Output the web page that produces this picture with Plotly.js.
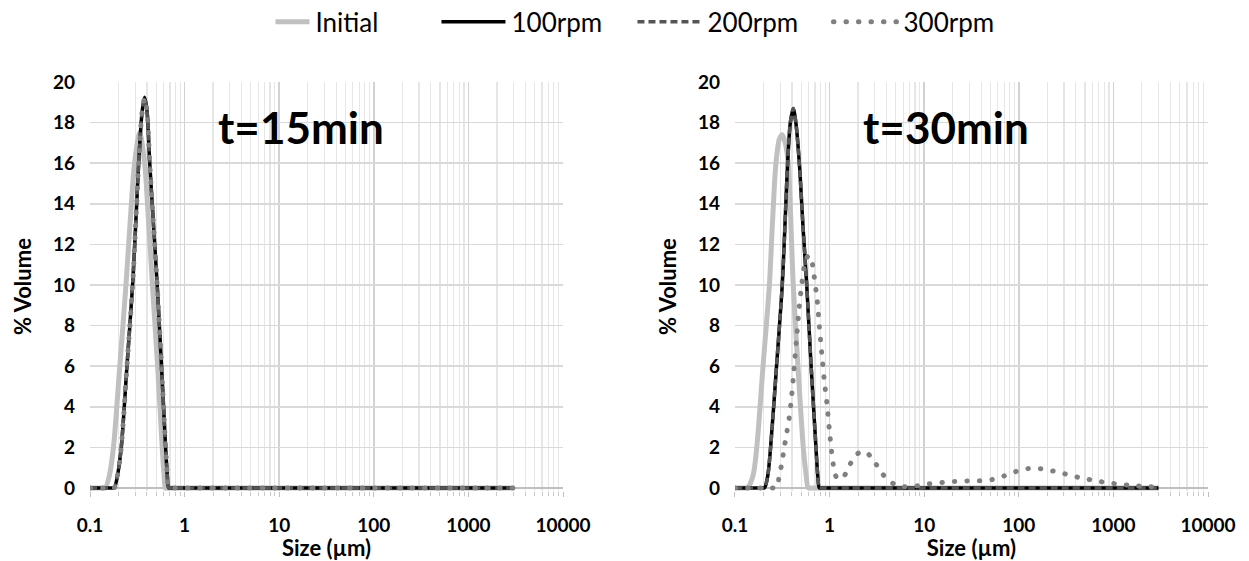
<!DOCTYPE html>
<html>
<head>
<meta charset="utf-8">
<script src="https://cdn.plot.ly/plotly-3.0.1.min.js"></script>
<style>
html,body{margin:0;padding:0;background:#fff;}
#chart{width:1249px;height:561px;}
.tracer300a .js-line, .tracer300b .js-line, .legend .traces:nth-of-type(4) .js-line {stroke-linecap:round;}
.legend .traces .js-line {d: path("M-30,0h64");}
</style>
</head>
<body>
<div id="chart"></div>
<script>
// ---- tick labels & names ----
const tickVals = [0.1, 1, 10, 100, 1000, 10000];
const tickText = ["0.1", "1", "10", "100", "1000", "10000"];
const seriesNames = ["Initial", "100rpm", "200rpm", "300rpm"];
const panelLabels = ["t=15min", "t=30min"];

// ---- t = 15 min ----
const initSize15 = [0.1, 0.135, 0.145, 0.16, 0.177, 0.205, 0.24, 0.27, 0.296, 0.335, 0.378, 0.415, 0.457, 0.52, 0.58, 0.605, 0.63, 0.68, 3000];
const initVol15  = [0, 0, 0, 0.6, 2.0, 5.8, 10.0, 13.6, 16.0, 17.5, 16.0, 13.2, 10.0, 5.9, 2.0, 0.7, 0, 0, 0];

const rpmSize15 = [0.1, 0.165, 0.18, 0.195, 0.214, 0.245, 0.282, 0.31, 0.327, 0.355, 0.378, 0.40, 0.428, 0.47, 0.513, 0.57, 0.63, 0.655, 0.68, 0.72, 3000];
const vol100_15 = [0, 0, 0, 0.6, 2.0, 5.9, 10.0, 13.8, 16.0, 18.5, 19.25, 18.6, 16.0, 12.9, 10.0, 6.0, 2.0, 0.7, 0, 0, 0];
const vol200_15 = [0, 0, 0, 0.6, 2.0, 5.9, 10.0, 13.8, 16.0, 18.5, 19.2, 18.6, 16.0, 12.9, 10.0, 6.0, 2.0, 0.7, 0, 0, 0];
const vol300_15 = [0, 0, 0, 0.6, 2.0, 5.9, 10.0, 13.8, 16.0, 18.5, 19.2, 18.6, 16.0, 12.9, 10.0, 6.0, 2.0, 0.7, 0, 0, 0];

// ---- t = 30 min ----
const initSize30 = [0.1, 0.125, 0.135, 0.155, 0.17, 0.198, 0.231, 0.25, 0.271, 0.295, 0.316, 0.34, 0.365, 0.413, 0.46, 0.527, 0.56, 0.596, 0.64, 3000];
const initVol30  = [0, 0, 0, 0.6, 2.0, 6.0, 10.0, 13.2, 16.0, 17.2, 17.4, 17.0, 16.0, 10.0, 6.2, 2.0, 0.8, 0, 0, 0];

const rpmSize30 = [0.1, 0.19, 0.205, 0.222, 0.238, 0.275, 0.316, 0.34, 0.36, 0.385, 0.413, 0.44, 0.479, 0.525, 0.573, 0.64, 0.718, 0.75, 0.78, 0.83, 3000];
const vol100_30 = [0, 0, 0, 0.6, 2.0, 6.0, 10.0, 13.3, 16.0, 18.0, 18.7, 18.0, 16.0, 12.8, 10.0, 5.9, 2.0, 0.6, 0, 0, 0];
const vol200_30 = [0, 0, 0, 0.6, 2.0, 6.0, 10.0, 13.3, 16.0, 18.0, 18.7, 18.0, 16.0, 12.8, 10.0, 5.9, 2.0, 0.6, 0, 0, 0];

const size300_30 = [0.1, 0.25, 0.275, 0.294, 0.312, 0.332, 0.352, 0.373, 0.395, 0.42, 0.452, 0.478, 0.51, 0.54, 0.573, 0.61, 0.647, 0.684, 0.741, 0.778, 0.824, 0.879, 0.94, 0.993, 1.05, 1.1, 1.19, 1.3, 1.43, 1.64, 1.93, 2.2, 2.5, 3.04, 3.6, 4.49, 6.0, 8.0, 11.0, 15.3, 20.6, 28, 38, 52, 70, 95, 129, 175, 237, 321, 436, 594, 802, 1084, 1500, 2043, 2750, 3000];
const vol300_30  = [0, 0, 0, 0.6, 1.2, 2.0, 2.7, 3.4, 4.4, 5.8, 7.6, 8.9, 10.1, 10.9, 11.35, 11.45, 11.2, 10.5, 9.2, 8.0, 6.7, 5.3, 4.1, 2.9, 1.8, 1.1, 0.5, 0.45, 0.6, 1.15, 1.65, 1.8, 1.72, 1.23, 0.71, 0.27, 0.07, 0.09, 0.2, 0.27, 0.32, 0.34, 0.35, 0.41, 0.59, 0.82, 0.96, 0.94, 0.82, 0.67, 0.51, 0.39, 0.28, 0.2, 0.13, 0.08, 0.05, 0.03];

// ---- styles ----
const FONT = 'Lato, "Open Sans", sans-serif';
const styles = [
  {color: '#c0c0c0', width: 5, dash: 'solid'},
  {color: '#000000', width: 3.5, dash: 'solid'},
  {color: '#555555', width: 3.5, dash: '7px,4px'},
  {color: '#808080', width: 5, dash: '0.5px,12px'}
];

function mk(i, x, y, xa, ya, show, uid) {
  const t = {
    type: 'scatter', mode: 'lines', x: x, y: y, name: seriesNames[i],
    xaxis: xa, yaxis: ya, showlegend: show, legendgroup: seriesNames[i],
    line: {color: styles[i].color, width: styles[i].width, dash: styles[i].dash, shape: 'spline', smoothing: 0.8},
    hoverinfo: 'skip'
  };
  if (uid) t.uid = uid;
  return t;
}

const data = [
  mk(0, initSize15, initVol15, 'x', 'y', true),
  mk(1, rpmSize15, vol100_15, 'x', 'y', true),
  mk(2, rpmSize15, vol200_15, 'x', 'y', true),
  mk(3, rpmSize15, vol300_15, 'x', 'y', true, 'r300a'),
  mk(0, initSize30, initVol30, 'x2', 'y2', false),
  mk(1, rpmSize30, vol100_30, 'x2', 'y2', false),
  mk(2, rpmSize30, vol200_30, 'x2', 'y2', false),
  mk(3, size300_30, vol300_30, 'x2', 'y2', false, 'r300b')
];

const tickFont = {family: FONT, size: 19, color: '#000', weight: 700};
const titleFont = {family: FONT, size: 22, color: '#000', weight: 700};

function xAxis(domain, anchor) {
  return {
    type: 'log', range: [-1, 4], domain: domain, anchor: anchor,
    tickmode: 'array', tickvals: tickVals, ticktext: tickText,
    showgrid: true, gridcolor: '#d2d2d2', gridwidth: 1.5,
    minor: {tickmode: 'linear', dtick: 'D1', showgrid: true, gridcolor: '#e6e6e6', gridwidth: 1.2, ticks: 'outside', ticklen: 4, tickcolor: '#c8c8c8'},
    ticks: 'outside', ticklen: 5, tickcolor: '#bfbfbf',
    showline: false, zeroline: false,
    tickfont: tickFont, ticklabelstandoff: 12,
    title: {text: 'Size (µm)', font: titleFont, standoff: 3},
    fixedrange: true, automargin: false
  };
}
function yAxis(anchor) {
  return {
    range: [-0.15, 20], anchor: anchor, tickmode: 'linear', tick0: 0, dtick: 2,
    showgrid: true, gridcolor: '#d9d9d9', gridwidth: 1.5,
    zeroline: true, zerolinecolor: '#bfbfbf', zerolinewidth: 1.5,
    showline: false, ticks: '',
    tickfont: tickFont, ticklabelstandoff: 14,
    title: {text: '% Volume', font: titleFont, standoff: 15},
    fixedrange: true, automargin: false
  };
}

const layout = {
  width: 1249, height: 561,
  paper_bgcolor: '#ffffff', plot_bgcolor: '#ffffff',
  margin: {l: 90, r: 41, t: 82, b: 70, pad: 0},
  font: {family: FONT, color: '#000'},
  xaxis: xAxis([0, 0.4231], 'y'),
  yaxis: yAxis('x'),
  xaxis2: xAxis([0.5769, 1], 'y2'),
  yaxis2: yAxis('x2'),
  showlegend: true,
  legend: {
    orientation: 'h', x: 0.5344, xanchor: 'center', xref: 'container',
    y: 0.961, yanchor: 'middle', yref: 'container',
    font: {family: FONT, size: 26, color: '#000'},
    entrywidth: 151, entrywidthmode: 'pixels',
    traceorder: 'normal', bgcolor: 'rgba(0,0,0,0)'
  },
  annotations: [
    {xref: 'x domain', yref: 'y domain', x: 0.446, y: 0.89, text: panelLabels[0], showarrow: false,
     font: {family: FONT, size: 44, color: '#000', weight: 700}, xanchor: 'center', yanchor: 'middle'},
    {xref: 'x2 domain', yref: 'y2 domain', x: 0.446, y: 0.89, text: panelLabels[1], showarrow: false,
     font: {family: FONT, size: 44, color: '#000', weight: 700}, xanchor: 'center', yanchor: 'middle'}
  ]
};

Plotly.newPlot('chart', data, layout, {displayModeBar: false, staticPlot: true});
</script>
</body>
</html>
